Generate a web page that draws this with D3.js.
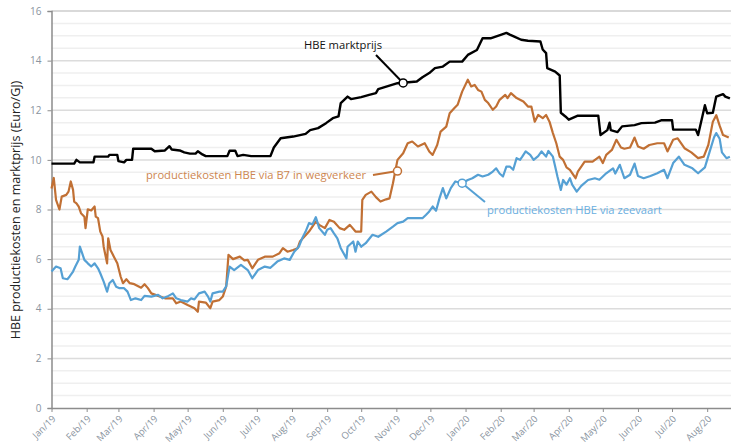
<!DOCTYPE html>
<html>
<head>
<meta charset="utf-8">
<script src="https://cdn.jsdelivr.net/npm/d3@7"></script>
<style>
body { margin: 0; background: #fff; }
svg text { font-family: "Open Sans", sans-serif; }
</style>
</head>
<body>
<div id="chart"></div>
<script>
// HBE marktprijs (Euro/GJ)
var marktprijs = [
  ["2019-01-01",9.85],["2019-01-21",9.85],["2019-01-23",10.0],["2019-01-26",9.9],["2019-02-07",9.9],
  ["2019-02-08",10.13],["2019-02-20",10.13],["2019-02-21",10.2],["2019-02-28",10.2],["2019-03-01",9.95],
  ["2019-03-06",9.9],["2019-03-08",10.0],["2019-03-13",10.0],["2019-03-14",10.45],["2019-03-30",10.45],
  ["2019-04-02",10.35],["2019-04-11",10.38],["2019-04-15",10.55],["2019-04-17",10.42],["2019-04-24",10.38],
  ["2019-04-28",10.3],["2019-05-03",10.25],["2019-05-08",10.25],["2019-05-10",10.35],["2019-05-14",10.22],
  ["2019-05-17",10.15],["2019-06-05",10.15],["2019-06-07",10.37],["2019-06-12",10.37],["2019-06-14",10.15],
  ["2019-06-19",10.2],["2019-06-26",10.15],["2019-07-13",10.15],["2019-07-16",10.5],["2019-07-22",10.87],
  ["2019-08-02",10.94],["2019-08-13",11.05],["2019-08-17",11.2],["2019-08-24",11.28],["2019-08-31",11.48],
  ["2019-09-06",11.68],["2019-09-11",11.75],["2019-09-13",12.29],["2019-09-19",12.55],["2019-09-22",12.45],
  ["2019-10-01",12.53],["2019-10-08",12.62],["2019-10-14",12.69],["2019-10-16",12.85],["2019-11-02",13.09],
  ["2019-11-19",13.16],["2019-11-24",13.33],["2019-11-30",13.5],["2019-12-05",13.7],["2019-12-12",13.76],
  ["2019-12-18",13.96],["2019-12-29",13.96],["2020-01-03",14.23],["2020-01-11",14.43],["2020-01-16",14.9],
  ["2020-01-23",14.9],["2020-02-01",15.04],["2020-02-06",15.12],["2020-02-09",15.05],["2020-02-13",14.97],
  ["2020-02-19",14.84],["2020-02-25",14.8],["2020-03-07",14.77],["2020-03-09",14.45],["2020-03-12",14.3],
  ["2020-03-13",13.7],["2020-03-20",13.56],["2020-03-24",13.4],["2020-03-25",11.9],["2020-03-29",11.75],
  ["2020-04-01",11.62],["2020-04-09",11.78],["2020-04-27",11.78],["2020-04-29",11.0],["2020-05-05",11.2],
  ["2020-05-07",11.5],["2020-05-08",11.2],["2020-05-14",11.12],["2020-05-18",11.35],["2020-05-29",11.4],
  ["2020-06-04",11.48],["2020-06-16",11.5],["2020-06-22",11.6],["2020-07-01",11.6],["2020-07-02",11.22],
  ["2020-07-22",11.22],["2020-07-24",11.0],["2020-07-28",11.8],["2020-07-30",12.2],["2020-08-01",11.88],
  ["2020-08-06",11.9],["2020-08-09",12.55],["2020-08-15",12.65],["2020-08-17",12.55],["2020-08-21",12.48]
];

// productiekosten HBE via B7 in wegverkeer
var wegverkeer = [
  ["2019-01-01",8.85],["2019-01-03",9.27],["2019-01-05",8.39],["2019-01-08",8.0],["2019-01-10",8.52],
  ["2019-01-14",8.59],["2019-01-16",8.72],["2019-01-18",9.13],["2019-01-20",8.79],["2019-01-21",8.32],
  ["2019-01-23",8.25],["2019-01-25",8.12],["2019-01-27",7.85],["2019-01-30",7.71],["2019-01-31",7.25],
  ["2019-02-02",8.01],["2019-02-05",7.96],["2019-02-08",8.12],["2019-02-09",7.71],["2019-02-11",7.65],
  ["2019-02-13",7.11],["2019-02-15",6.91],["2019-02-16",6.5],["2019-02-19",5.83],["2019-02-20",6.84],
  ["2019-02-22",6.37],["2019-02-25",6.1],["2019-02-28",5.83],["2019-03-03",5.29],["2019-03-05",5.03],
  ["2019-03-08",5.19],["2019-03-11",5.03],["2019-03-15",4.99],["2019-03-21",4.85],["2019-03-24",4.99],
  ["2019-03-27",4.83],["2019-03-30",4.62],["2019-04-05",4.52],["2019-04-11",4.42],["2019-04-18",4.42],
  ["2019-04-21",4.22],["2019-04-25",4.29],["2019-05-01",4.15],["2019-05-07",4.02],["2019-05-10",3.88],
  ["2019-05-11",4.29],["2019-05-17",4.25],["2019-05-21",4.02],["2019-05-23",4.29],["2019-05-29",4.35],
  ["2019-06-01",4.49],["2019-06-04",4.9],["2019-06-06",6.17],["2019-06-10",6.0],["2019-06-16",6.1],
  ["2019-06-20",5.95],["2019-06-23",5.97],["2019-06-27",5.63],["2019-07-02",5.97],["2019-07-08",6.1],
  ["2019-07-15",6.1],["2019-07-21",6.24],["2019-07-24",6.44],["2019-07-28",6.3],["2019-08-02",6.37],
  ["2019-08-06",6.44],["2019-08-08",6.71],["2019-08-12",6.91],["2019-08-16",7.11],["2019-08-19",7.31],
  ["2019-08-22",7.51],["2019-08-25",7.38],["2019-08-30",7.25],["2019-09-03",7.58],["2019-09-07",7.51],
  ["2019-09-12",7.25],["2019-09-16",7.18],["2019-09-21",7.38],["2019-09-26",7.11],["2019-10-01",7.11],
  ["2019-10-02",8.39],["2019-10-05",8.59],["2019-10-10",8.72],["2019-10-14",8.5],["2019-10-18",8.32],
  ["2019-10-23",8.41],["2019-10-26",8.45],["2019-10-29",9.06],["2019-10-31",9.53],["2019-11-02",10.0],
  ["2019-11-07",10.27],["2019-11-11",10.67],["2019-11-15",10.74],["2019-11-20",10.54],["2019-11-26",10.67],
  ["2019-11-30",10.34],["2019-12-03",10.2],["2019-12-07",10.6],["2019-12-10",11.14],["2019-12-15",11.34],
  ["2019-12-18",11.88],["2019-12-22",12.08],["2019-12-25",12.22],["2019-12-29",12.75],["2020-01-03",13.23],
  ["2020-01-06",12.96],["2020-01-09",13.02],["2020-01-12",12.82],["2020-01-15",12.75],["2020-01-18",12.42],
  ["2020-01-21",12.29],["2020-01-25",12.02],["2020-01-28",12.15],["2020-01-31",12.42],["2020-02-05",12.62],
  ["2020-02-07",12.49],["2020-02-10",12.69],["2020-02-15",12.49],["2020-02-21",12.35],["2020-02-25",12.15],
  ["2020-02-28",12.15],["2020-03-02",11.54],["2020-03-05",11.81],["2020-03-09",11.68],["2020-03-12",11.81],
  ["2020-03-15",11.54],["2020-03-18",11.08],["2020-03-21",10.67],["2020-03-24",10.13],["2020-03-27",10.0],
  ["2020-03-30",9.7],["2020-04-02",9.6],["2020-04-07",9.26],["2020-04-09",9.53],["2020-04-15",9.93],
  ["2020-04-22",9.93],["2020-04-28",10.13],["2020-05-01",9.87],["2020-05-04",10.2],["2020-05-09",10.4],
  ["2020-05-13",10.81],["2020-05-17",10.5],["2020-05-20",10.45],["2020-05-25",10.5],["2020-05-29",10.9],
  ["2020-06-01",10.54],["2020-06-06",10.45],["2020-06-11",10.6],["2020-06-18",10.67],["2020-06-24",10.67],
  ["2020-06-27",10.34],["2020-07-02",10.81],["2020-07-06",10.87],["2020-07-12",10.47],["2020-07-18",10.3],
  ["2020-07-24",10.07],["2020-07-29",10.13],["2020-08-02",10.6],["2020-08-06",11.54],["2020-08-09",11.8],
  ["2020-08-12",11.38],["2020-08-15",11.0],["2020-08-20",10.9]
];

// productiekosten HBE via zeevaart
var zeevaart = [
  ["2019-01-01",5.5],["2019-01-05",5.7],["2019-01-09",5.63],["2019-01-11",5.23],["2019-01-15",5.19],
  ["2019-01-17",5.3],["2019-01-20",5.5],["2019-01-22",5.7],["2019-01-25",5.97],["2019-01-26",6.5],
  ["2019-01-28",6.24],["2019-01-30",5.97],["2019-02-02",5.83],["2019-02-05",5.7],["2019-02-08",5.83],
  ["2019-02-11",5.63],["2019-02-13",5.43],["2019-02-16",5.09],["2019-02-19",4.69],["2019-02-21",5.03],
  ["2019-02-24",5.16],["2019-02-27",4.89],["2019-03-02",4.83],["2019-03-06",4.83],["2019-03-09",4.69],
  ["2019-03-12",4.35],["2019-03-16",4.42],["2019-03-21",4.35],["2019-03-24",4.52],["2019-03-30",4.49],
  ["2019-04-05",4.56],["2019-04-09",4.42],["2019-04-13",4.49],["2019-04-18",4.62],["2019-04-21",4.42],
  ["2019-04-25",4.35],["2019-05-01",4.29],["2019-05-04",4.42],["2019-05-07",4.38],["2019-05-11",4.62],
  ["2019-05-16",4.69],["2019-05-19",4.49],["2019-05-21",4.29],["2019-05-23",4.62],["2019-05-29",4.69],
  ["2019-06-01",4.69],["2019-06-04",4.9],["2019-06-07",5.7],["2019-06-11",5.56],["2019-06-17",5.77],
  ["2019-06-23",5.56],["2019-06-27",5.23],["2019-07-02",5.56],["2019-07-08",5.7],["2019-07-13",5.65],
  ["2019-07-19",5.9],["2019-07-25",6.03],["2019-07-30",5.97],["2019-08-03",6.3],["2019-08-07",6.5],
  ["2019-08-10",6.84],["2019-08-13",7.11],["2019-08-16",7.45],["2019-08-19",7.4],["2019-08-22",7.69],
  ["2019-08-25",7.25],["2019-08-30",6.98],["2019-09-01",7.18],["2019-09-04",7.25],["2019-09-07",7.04],
  ["2019-09-10",6.84],["2019-09-13",6.44],["2019-09-18",6.03],["2019-09-19",6.5],["2019-09-24",6.71],
  ["2019-09-26",6.3],["2019-09-28",6.71],["2019-10-01",6.5],["2019-10-05",6.64],["2019-10-11",6.98],
  ["2019-10-16",6.9],["2019-10-23",7.11],["2019-10-29",7.31],["2019-11-02",7.45],["2019-11-07",7.51],
  ["2019-11-11",7.65],["2019-11-17",7.65],["2019-11-24",7.65],["2019-11-27",7.78],["2019-11-30",7.92],
  ["2019-12-03",8.12],["2019-12-06",7.95],["2019-12-09",8.45],["2019-12-12",8.86],["2019-12-15",8.45],
  ["2019-12-19",8.86],["2019-12-23",9.13],["2019-12-29",9.06],["2020-01-03",9.19],["2020-01-07",9.26],
  ["2020-01-12",9.4],["2020-01-16",9.33],["2020-01-21",9.4],["2020-01-25",9.53],["2020-01-28",9.66],
  ["2020-01-31",9.45],["2020-02-03",9.33],["2020-02-06",9.73],["2020-02-09",9.73],["2020-02-12",9.6],
  ["2020-02-15",10.07],["2020-02-18",10.0],["2020-02-20",10.13],["2020-02-23",10.34],["2020-02-27",10.2],
  ["2020-03-01",10.0],["2020-03-05",10.15],["2020-03-08",10.34],["2020-03-12",10.13],["2020-03-14",10.36],
  ["2020-03-18",10.13],["2020-03-20",9.73],["2020-03-22",9.33],["2020-03-25",8.79],["2020-03-27",9.19],
  ["2020-03-30",9.0],["2020-04-02",9.26],["2020-04-04",9.0],["2020-04-08",8.72],["2020-04-12",8.95],
  ["2020-04-18",9.19],["2020-04-24",9.26],["2020-04-28",9.2],["2020-05-04",9.46],["2020-05-10",9.66],
  ["2020-05-12",9.45],["2020-05-16",9.8],["2020-05-20",9.26],["2020-05-25",9.4],["2020-05-29",9.85],
  ["2020-06-01",9.35],["2020-06-06",9.26],["2020-06-12",9.35],["2020-06-18",9.46],["2020-06-24",9.6],
  ["2020-06-27",9.26],["2020-07-02",9.87],["2020-07-07",10.13],["2020-07-12",9.8],["2020-07-19",9.66],
  ["2020-07-24",9.46],["2020-07-30",9.7],["2020-08-03",10.3],["2020-08-07",10.9],["2020-08-09",11.08],
  ["2020-08-12",10.85],["2020-08-14",10.3],["2020-08-18",10.07],["2020-08-21",10.13]
];

var yTicks = [0, 2, 4, 6, 8, 10, 12, 14, 16];

// labels with a leader line and a circle on the series
var annotations = [
  {date: "2019-11-07", value: 13.1, label: "HBE marktprijs", color: "#000", text: "#111", lx: 343, ly: 45, ex: 376, ey: 55, anchor: "middle"},
  {date: "2019-11-02", value: 9.55, label: "productiekosten HBE via B7 in wegverkeer", color: "#c17034", text: "#cd8650", lx: 366, ly: 175, ex: 373, ey: 175, anchor: "end"},
  {date: "2019-12-29", value: 9.06, label: "productiekosten HBE via zeevaart", color: "#55a0d4", text: "#6aaee0", lx: 487, ly: 210, ex: 485, ey: 202, anchor: "start"}
];

var width = 731, height = 444;
var mLeft = 51.5, mRight = 731, mTop = 11, mBottom = 408;

var parse = d3.utcParse("%Y-%m-%d");

var svg = d3.select("#chart").append("svg")
  .attr("width", width)
  .attr("height", height);

var x = d3.scaleUtc()
  .domain([parse("2019-01-01"), parse("2020-08-22")])
  .range([mLeft, mRight]);

var y = d3.scaleLinear()
  .domain([0, 16])
  .range([mBottom, mTop]);

// horizontal grid, every 0.5
svg.append("g").selectAll("line")
  .data(d3.range(0.5, 16, 0.5))
  .enter().append("line")
  .attr("x1", mLeft)
  .attr("x2", mRight)
  .attr("y1", function(d) { return y(d); })
  .attr("y2", function(d) { return y(d); })
  .style("stroke", function(d) { return d % 2 == 0 ? "#dcdcdc" : "#efefef"; })
  .style("stroke-width", 1.5);

// top border
svg.append("line")
  .attr("x1", mLeft).attr("x2", mRight)
  .attr("y1", y(16)).attr("y2", y(16))
  .style("stroke", "#b4b4b4")
  .style("stroke-width", 1.2);

// y axis
var yAxis = svg.append("g")
  .attr("transform", "translate(" + mLeft + ",0)")
  .call(d3.axisLeft(y).tickValues(yTicks).tickSize(4).tickPadding(6));

yAxis.select(".domain").style("stroke", "#8c8c8c").style("stroke-width", 1.5);
yAxis.selectAll(".tick line").style("stroke", "#8c8c8c");
yAxis.selectAll("text")
  .style("font-size", "10px")
  .style("fill", "#8a94a0");

// x axis
var xAxis = svg.append("g")
  .attr("transform", "translate(0," + mBottom + ")")
  .call(d3.axisBottom(x).ticks(d3.utcMonth.every(1)).tickFormat(d3.utcFormat("%b/%y")).tickSize(4).tickSizeOuter(0));

xAxis.select(".domain").style("stroke", "#8c8c8c").style("stroke-width", 1.5);
xAxis.selectAll(".tick line").style("stroke", "#8c8c8c");
xAxis.selectAll("text")
  .attr("x", 0)
  .attr("y", 0)
  .attr("dy", "0.35em")
  .attr("transform", "translate(2,9) rotate(-45)")
  .style("text-anchor", "end")
  .style("font-size", "9.5px")
  .style("fill", "#8a94a0");

// y label
svg.append("text")
  .attr("transform", "translate(20,210) rotate(-90)")
  .attr("text-anchor", "middle")
  .text("HBE productiekosten en marktprijs (Euro/GJ)")
  .style("font-size", "12.5px")
  .style("fill", "#222");

var line = d3.line()
  .x(function(d) { return x(parse(d[0])); })
  .y(function(d) { return y(d[1]); });

var series = [
  {data: wegverkeer, color: "#c17034", w: 2.2},
  {data: zeevaart, color: "#55a0d4", w: 2.2},
  {data: marktprijs, color: "#000", w: 2.4}
];

svg.selectAll("path.series")
  .data(series)
  .enter().append("path")
  .attr("class", "series")
  .attr("d", function(d) { return line(d.data); })
  .style("fill", "none")
  .style("stroke", function(d) { return d.color; })
  .style("stroke-width", function(d) { return d.w; })
  .style("stroke-linejoin", "round");

// annotations
annotations.forEach(function(a) {
  var cx = x(parse(a.date)), cy = y(a.value);
  svg.append("line")
    .attr("x1", a.ex).attr("y1", a.ey)
    .attr("x2", cx).attr("y2", cy)
    .style("stroke", a.color)
    .style("stroke-width", 2);
  svg.append("circle")
    .attr("cx", cx).attr("cy", cy).attr("r", 4)
    .style("fill", "#fff")
    .style("stroke", a.color)
    .style("stroke-width", 1.5);
  svg.append("text")
    .attr("x", a.lx).attr("y", a.ly)
    .attr("dy", "0.35em")
    .attr("text-anchor", a.anchor)
    .text(a.label)
    .style("font-size", "11.2px")
    .style("fill", a.text);
});
</script>
</body>
</html>
